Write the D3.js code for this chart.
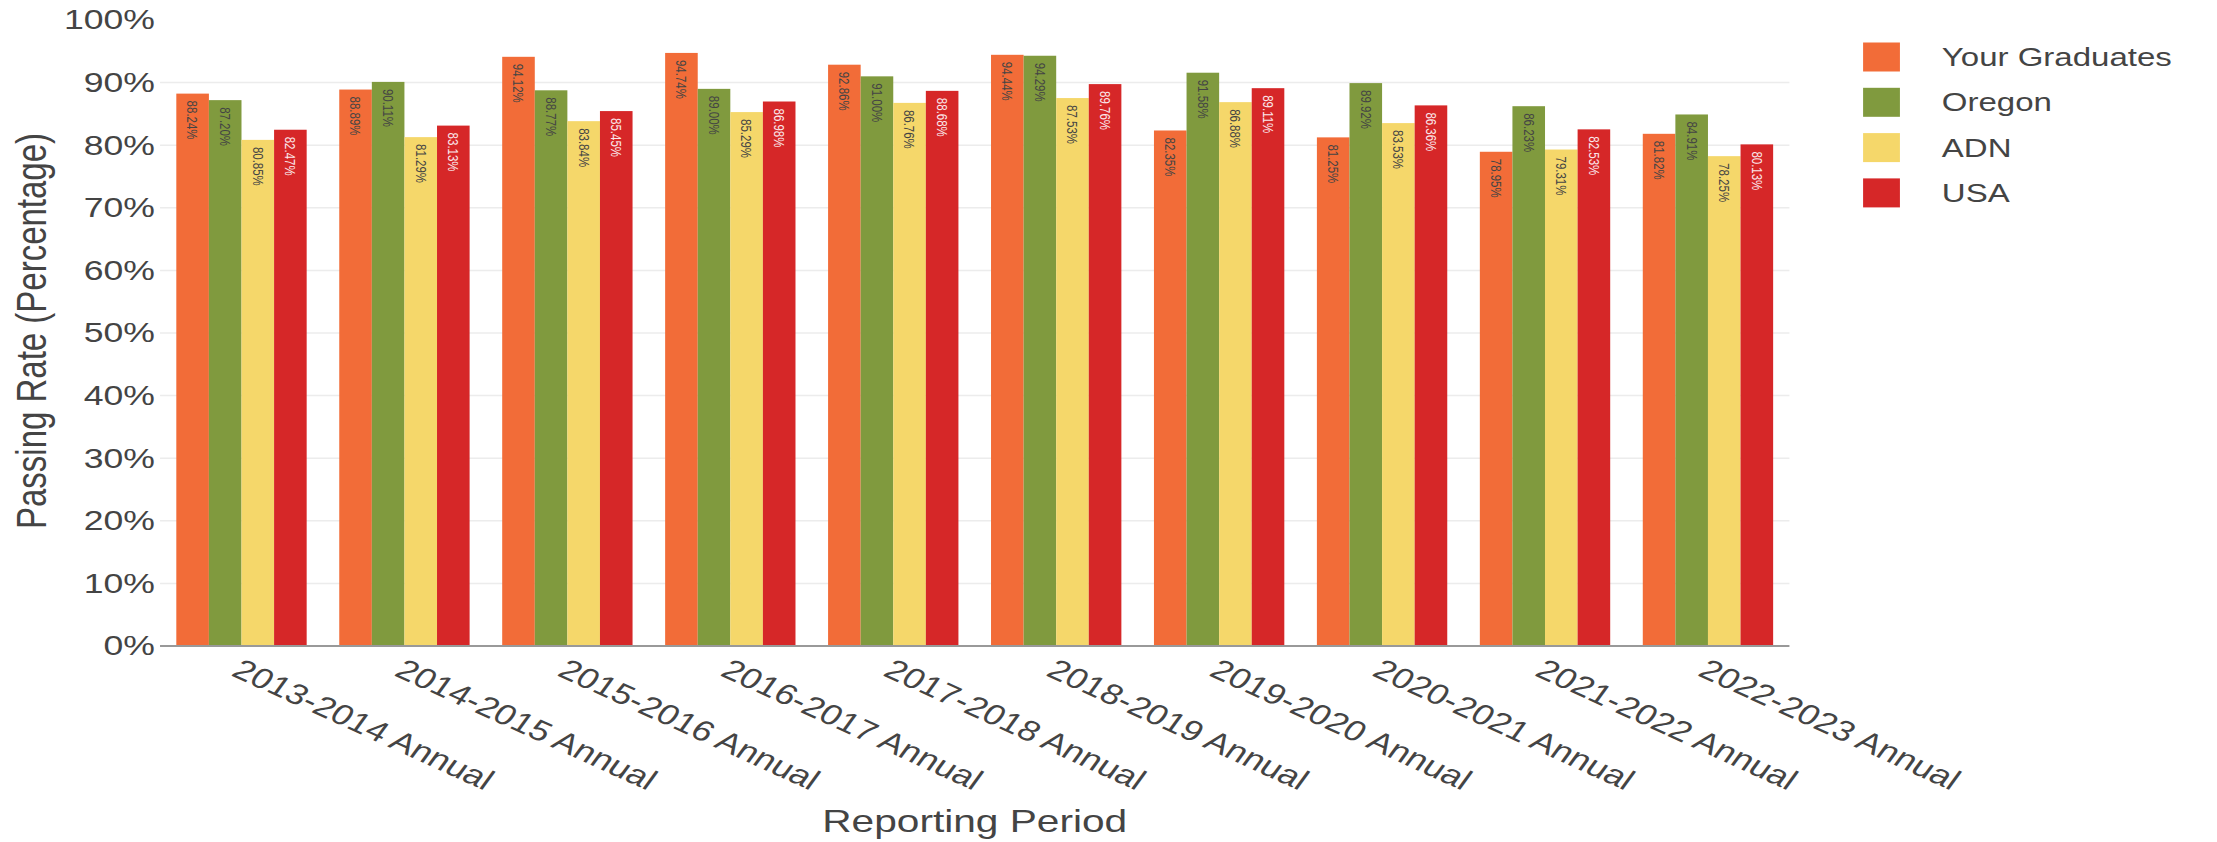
<!DOCTYPE html>
<html>
<head>
<meta charset="utf-8">
<script src="https://cdn.jsdelivr.net/npm/d3@7"></script>
<style>
  html, body { margin: 0; padding: 0; background: #fff; }
  svg { display: block; }
  text { font-family: "Liberation Sans", Arial, sans-serif; fill: #444; }
</style>
</head>
<body>
<svg id="chart"></svg>
<script>
// Reporting periods on the x axis
const periods = [
  "2013-2014 Annual", "2014-2015 Annual", "2015-2016 Annual", "2016-2017 Annual",
  "2017-2018 Annual", "2018-2019 Annual", "2019-2020 Annual", "2020-2021 Annual",
  "2021-2022 Annual", "2022-2023 Annual"
];

// Passing rates (percent) for each series
const seriesNames = ["Your Graduates", "Oregon", "ADN", "USA"];
const yourGraduates = [88.24, 88.89, 94.12, 94.74, 92.86, 94.44, 82.35, 81.25, 78.95, 81.82];
const oregon        = [87.20, 90.11, 88.77, 89.00, 91.00, 94.29, 91.58, 89.92, 86.23, 84.91];
const adn           = [80.85, 81.29, 83.84, 85.29, 86.76, 87.53, 86.88, 83.53, 79.31, 78.25];
const usa           = [82.47, 83.13, 85.45, 86.98, 88.68, 89.76, 89.11, 86.36, 82.53, 80.13];

const yTicks = [0, 10, 20, 30, 40, 50, 60, 70, 80, 90, 100];

const colors = ["#f26c38", "#809a3e", "#f5d76a", "#d62728"];
const labelColors = ["#444", "#444", "#444", "#fbe9ec"];

const seriesValues = [yourGraduates, oregon, adn, usa];

// The drawing is laid out in a narrower space and stretched to the page width
const pageW = 2217, pageH = 842, stretch = 1.27;
const W = pageW / stretch;

const svg = d3.select("#chart")
  .attr("width", pageW)
  .attr("height", pageH)
  .attr("viewBox", `0 0 ${W} ${pageH}`)
  .attr("preserveAspectRatio", "none");

svg.append("rect").attr("width", W).attr("height", pageH).attr("fill", "#fff");

const plot = { left: 126, right: 1409, top: 20, bottom: 646 };

const x0 = d3.scaleBand().domain(periods)
  .range([plot.left, plot.right]).paddingInner(0.2).paddingOuter(0.1);
const x1 = d3.scaleBand().domain(seriesNames)
  .range([0, x0.bandwidth()]).padding(0);
const y = d3.scaleLinear().domain([0, 100]).range([plot.bottom, plot.top]);

// Horizontal gridlines
svg.append("g").selectAll("line")
  .data(yTicks.filter(t => t > 0 && t < 100))
  .join("line")
  .attr("x1", plot.left).attr("x2", plot.right)
  .attr("y1", d => y(d)).attr("y2", d => y(d))
  .attr("stroke", "#ececec").attr("stroke-width", 1.5);

// Y axis tick labels
const yAxis = svg.append("g")
  .attr("transform", `translate(${plot.left},0)`)
  .call(d3.axisLeft(y).tickValues(yTicks).tickSize(0).tickPadding(4)
    .tickFormat(d => d + "%"));
yAxis.select(".domain").remove();
yAxis.selectAll("text")
  .style("font-size", "28px")
  .style("font-family", "'Liberation Sans', Arial, sans-serif")
  .attr("fill", "#444");

// Bars grouped by period
const groups = svg.append("g").selectAll("g")
  .data(periods)
  .join("g")
  .attr("transform", d => `translate(${x0(d)},0)`);

const barData = (p, i) => seriesNames.map((s, k) => ({
  series: s, k, value: seriesValues[k][i]
}));

groups.selectAll("rect")
  .data((p, i) => barData(p, i))
  .join("rect")
  .attr("x", d => x1(d.series))
  .attr("y", d => y(d.value))
  .attr("width", x1.bandwidth())
  .attr("height", d => y(0) - y(d.value))
  .attr("fill", d => colors[d.k]);

// Value labels inside the top of each bar, rotated to read downward
groups.selectAll("text.val")
  .data((p, i) => barData(p, i))
  .join("text")
  .attr("class", "val")
  .attr("transform", d =>
    `translate(${x1(d.series) + x1.bandwidth() / 2},${y(d.value) + 7}) rotate(90)`)
  .attr("dy", "0.35em")
  .attr("text-anchor", "start")
  .style("font-size", "11.5px")
  .style("fill", d => labelColors[d.k])
  .text(d => d3.format(".2f")(d.value) + "%");

// Zero line
svg.append("line")
  .attr("x1", plot.left).attr("x2", plot.right)
  .attr("y1", y(0)).attr("y2", y(0))
  .attr("stroke", "#999").attr("stroke-width", 2.2);

// X axis with slanted period labels
const xAxis = svg.append("g")
  .attr("transform", `translate(0,${plot.bottom})`)
  .call(d3.axisBottom(x0).tickSize(0));
xAxis.select(".domain").remove();
xAxis.selectAll("text")
  .attr("x", null).attr("y", null).attr("dy", null)
  .attr("transform", "translate(-9,29) rotate(30)")
  .attr("text-anchor", "start")
  .style("font-size", "28.5px")
  .style("font-family", "'Liberation Sans', Arial, sans-serif")
  .attr("fill", "#444");

// Axis titles
svg.append("text")
  .attr("transform", `translate(36,331) rotate(-90)`)
  .attr("text-anchor", "middle")
  .style("font-size", "33px")
  .text("Passing Rate (Percentage)");

svg.append("text")
  .attr("x", (plot.left + plot.right) / 2)
  .attr("y", 832)
  .attr("text-anchor", "middle")
  .style("font-size", "32px")
  .text("Reporting Period");

// Legend
const legend = svg.append("g").selectAll("g")
  .data(seriesNames)
  .join("g")
  .attr("transform", (d, i) => `translate(1467,${57 + i * 45.3})`);
legend.append("rect")
  .attr("x", 0).attr("y", -14.5)
  .attr("width", 29).attr("height", 29)
  .attr("fill", (d, i) => colors[i]);
legend.append("text")
  .attr("x", 62).attr("dy", "0.35em")
  .style("font-size", "26px")
  .text(d => d);
</script>
</body>
</html>
